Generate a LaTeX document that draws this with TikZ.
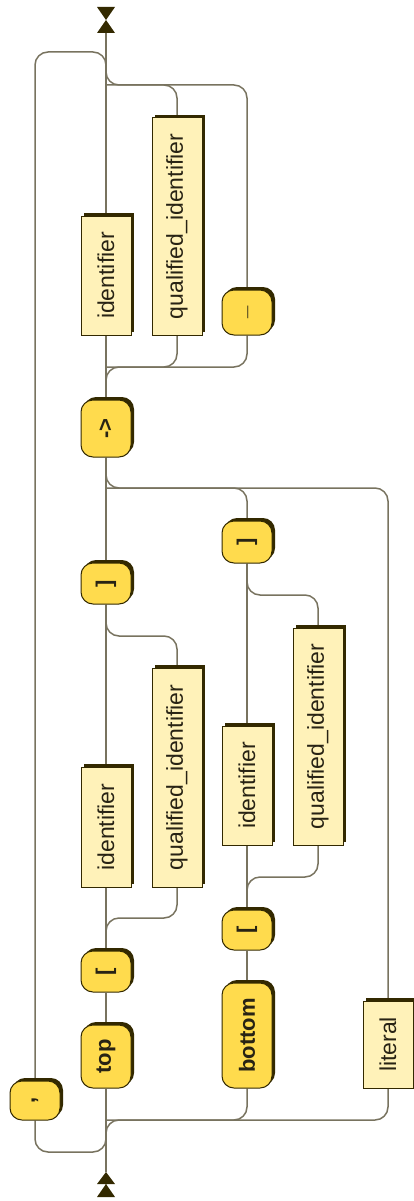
\documentclass[tikz,border=0pt]{standalone}
\usepackage{graphicx}
\usepackage{fontspec}
\setmainfont{Liberation Sans}
\usetikzlibrary{shadows,backgrounds}
\definecolor{linec}{RGB}{120,115,95}
\definecolor{dk}{RGB}{51,41,0}
\definecolor{ntfill}{RGB}{255,242,185}
\definecolor{tfill}{RGB}{255,219,77}
\definecolor{txt}{RGB}{40,35,20}
\begin{document}
\begin{tikzpicture}[x=1pt,y=-1pt,
  base/.style={draw=dk, line width=1pt, minimum width=50pt, inner sep=0pt, text=txt,
    drop shadow={shadow xshift=3pt,shadow yshift=3pt,fill=dk,opacity=1}},
  nt/.style={base, fill=ntfill, font=\fontsize{23}{27}\selectfont},
  term/.style={base, fill=tfill, rounded corners=12pt, font=\fontsize{22}{26}\selectfont\bfseries},
  wire/.style={draw=linec, line width=1.5pt, rounded corners=13pt},
]
\useasboundingbox (0,0) rectangle (414,1201);

% nodes
\node[nt, minimum height=119pt] (ida) at (106,275.5) {\rotatebox{90}{identifier}};
\node[nt, minimum height=217pt] (qa) at (177,226.5) {\rotatebox{90}{qualified\_identifier}};
\node[term, minimum height=45pt] (us) at (247,312.5) {\rotatebox{90}{\_}};
\node[term, minimum height=57pt] (arr) at (106,428.5) {\rotatebox{90}{->}};
\node[term, minimum height=41pt] (rba) at (106,583.5) {\rotatebox{90}{]}};
\node[nt, minimum height=219pt] (qb) at (177,777.5) {\rotatebox{90}{qualified\_identifier}};
\node[nt, minimum height=120pt] (idb) at (106,827) {\rotatebox{90}{identifier}};
\node[term, minimum height=41pt] (lba) at (106,971.5) {\rotatebox{90}{[}};
\node[term, minimum height=63pt] (top) at (106,1056.5) {\rotatebox{90}{top}};
\node[term, minimum height=42pt] (rbb) at (247,542) {\rotatebox{90}{]}};
\node[nt, minimum height=217pt] (qc) at (318,736.5) {\rotatebox{90}{qualified\_identifier}};
\node[nt, minimum height=119pt] (idc) at (247,785.5) {\rotatebox{90}{identifier}};
\node[term, minimum height=40pt] (lbb) at (247,930) {\rotatebox{90}{[}};
\node[term, minimum height=105pt] (bot) at (247,1035.5) {\rotatebox{90}{bottom}};
\node[nt, minimum height=87pt] (lit) at (388,1044.5) {\rotatebox{90}{literal}};
\node[term, minimum height=39pt] (com) at (35,1100.5) {\rotatebox{90}{,}};

% junctions
\coordinate (E) at (106,33);
\coordinate (S) at (106,1172);
\coordinate (J1) at (106,52);
\coordinate (J2) at (106,85);
\coordinate (J3) at (106,367);
\coordinate (J4) at (106,488);
\coordinate (J5) at (106,636);
\coordinate (J6) at (106,918);
\coordinate (J7) at (247,595);
\coordinate (J8) at (247,877);
\coordinate (J9) at (106,1120);
\coordinate (J10) at (106,1152);

\begin{scope}[on background layer]
% spine
\draw[wire] (E) -- (ida.north);
\draw[wire] (ida.south) -- (arr.north);
\draw[wire] (arr.south) -- (rba.north);
\draw[wire] (rba.south) -- (idb.north);
\draw[wire] (idb.south) -- (lba.north);
\draw[wire] (lba.south) -- (top.north);
\draw[wire] (top.south) -- (S);
% loop
\draw[wire] (com.north) |- (J1) -- ++(0,25);
\draw[wire] (com.south) |- (J10) -- ++(0,-20);
% top choice
\draw[wire] (us.north) |- (J2) -- ++(0,-25);
\draw[wire] (qa.north) |- (J2);
\draw[wire] (arr.north) -- (J3) -| (us.south);
\draw[wire] (J3) -| (qa.south);
% middle choice
\draw[wire] (arr.south) -- (J4) -| (lit.north);
\draw[wire] (J4) -| (rbb.north);
\draw[wire] (S) -- (J9) -| (lit.south);
\draw[wire] (J9) -| (bot.south);
% inner choices
\draw[wire] (rba.south) -- (J5) -| (qb.north);
\draw[wire] (lba.north) -- (J6) -| (qb.south);
\draw[wire] (rbb.south) -- (J7) -| (qc.north);
\draw[wire] (lbb.north) -- (J8) -| (qc.south);
\draw[wire] (rbb.south) -- (idc.north);
\draw[wire] (idc.south) -- (lbb.north);
\draw[wire] (lbb.south) -- (bot.north);
\end{scope}

% markers
\fill[dk, shift={(E)}] (-9,0) -- (9,0) -- (0,-13) -- cycle (-9,-26) -- (9,-26) -- (0,-13) -- cycle;
\fill[dk, shift={(S)}] (0,0) -- (9,12) -- (-9,12) -- cycle (0,12) -- (9,25) -- (-9,25) -- cycle;
\end{tikzpicture}
\end{document}
